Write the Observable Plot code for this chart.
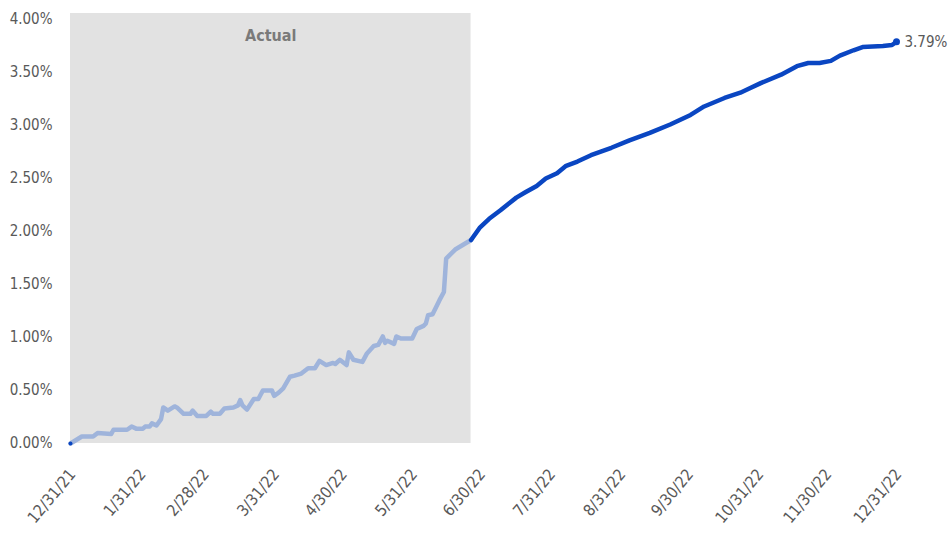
<!DOCTYPE html>
<html><head><meta charset="utf-8">
<script src="https://cdn.jsdelivr.net/npm/d3@7"></script>
<script src="https://cdn.jsdelivr.net/npm/@observablehq/plot@0.6"></script>
<style>body{margin:0;background:#fff;}</style>
</head><body><div id="chart"></div>
<script>
const actualDates = ["2021-12-31","2022-01-05","2022-01-10","2022-01-12","2022-01-18","2022-01-19","2022-01-25","2022-01-27","2022-01-29","2022-02-01","2022-02-02","2022-02-04","2022-02-05","2022-02-07","2022-02-09","2022-02-10","2022-02-12","2022-02-15","2022-02-16","2022-02-19","2022-02-22","2022-02-23","2022-02-25","2022-03-01","2022-03-03","2022-03-04","2022-03-07","2022-03-09","2022-03-13","2022-03-15","2022-03-16","2022-03-17","2022-03-19","2022-03-22","2022-03-24","2022-03-26","2022-03-30","2022-03-31","2022-04-02","2022-04-04","2022-04-07","2022-04-09","2022-04-12","2022-04-15","2022-04-18","2022-04-20","2022-04-23","2022-04-26","2022-04-27","2022-04-29","2022-05-02","2022-05-03","2022-05-05","2022-05-09","2022-05-11","2022-05-14","2022-05-16","2022-05-18","2022-05-19","2022-05-20","2022-05-23","2022-05-24","2022-05-26","2022-05-31","2022-06-02","2022-06-05","2022-06-06","2022-06-07","2022-06-09","2022-06-12","2022-06-14","2022-06-15","2022-06-19","2022-06-26"];
const actualValues = [0.00,0.066,0.066,0.10,0.09,0.13,0.13,0.16,0.14,0.14,0.16,0.16,0.19,0.17,0.23,0.34,0.31,0.35,0.34,0.28,0.28,0.31,0.26,0.26,0.30,0.28,0.28,0.33,0.34,0.36,0.41,0.36,0.32,0.42,0.42,0.50,0.50,0.45,0.48,0.52,0.63,0.64,0.66,0.71,0.71,0.78,0.74,0.76,0.75,0.79,0.74,0.86,0.79,0.77,0.85,0.92,0.93,1.01,0.95,0.97,0.94,1.01,0.99,0.99,1.08,1.11,1.13,1.21,1.22,1.35,1.43,1.745,1.83,1.92];
const forecastDates = ["2022-06-26","2022-06-30","2022-07-04","2022-07-09","2022-07-13","2022-07-16","2022-07-20","2022-07-25","2022-07-29","2022-08-03","2022-08-07","2022-08-12","2022-08-18","2022-08-27","2022-09-04","2022-09-13","2022-09-22","2022-10-01","2022-10-07","2022-10-16","2022-10-23","2022-10-26","2022-11-01","2022-11-10","2022-11-17","2022-11-22","2022-11-27","2022-12-02","2022-12-06","2022-12-12","2022-12-16","2022-12-25","2022-12-29","2022-12-31"];
const forecastValues = [1.92,2.04,2.12,2.20,2.27,2.32,2.37,2.43,2.50,2.55,2.62,2.66,2.72,2.79,2.86,2.93,3.01,3.10,3.18,3.26,3.31,3.34,3.40,3.48,3.56,3.59,3.59,3.61,3.66,3.71,3.74,3.75,3.76,3.79];
const xTickDates = ["2021-12-31","2022-01-31","2022-02-28","2022-03-31","2022-04-30","2022-05-31","2022-06-30","2022-07-31","2022-08-31","2022-09-30","2022-10-31","2022-11-30","2022-12-31"];
const yTickValues = [0,0.5,1,1.5,2,2.5,3,3.5,4];
const shadeLabel = "Actual";

const parse = d3.utcParse("%Y-%m-%d");
const actual = actualDates.map((d,i)=>({date: parse(d), value: actualValues[i]}));
const forecast = forecastDates.map((d,i)=>({date: parse(d), value: forecastValues[i]}));
const xTicks = xTickDates.map(parse);
const yTop = 4.057;
const shade = [{x1: actual[0].date, x2: actual[actual.length-1].date, y1: 0, y2: yTop}];
const mid = new Date((shade[0].x1.getTime() + shade[0].x2.getTime())/2);
const last = forecast[forecast.length-1];
const pct = v => v.toFixed(2) + "%";
const font = "'DejaVu Sans Condensed', 'Liberation Sans Narrow', sans-serif";

const chart = Plot.plot({
  width: 948, height: 533,
  marginLeft: 70, marginRight: 52, marginTop: 13, marginBottom: 90,
  style: {fontFamily: font, fontSize: "15px", color: "#595959", background: "#fff"},
  x: {type: "utc", domain: [xTicks[0], xTicks[xTicks.length-1]]},
  y: {domain: [0, yTop]},
  marks: [
    Plot.rect(shade, {x1: "x1", x2: "x2", y1: "y1", y2: "y2", fill: "#e2e2e2"}),
    Plot.text([{x: mid, y: 3.85, t: shadeLabel}], {x: "x", y: "y", text: "t", fontWeight: "bold", fill: "#7a7a7a", fontSize: 16}),
    Plot.axisY({ticks: yTickValues, tickFormat: pct, tickSize: 0, tickPadding: 18}),
    Plot.axisX({ticks: xTicks, tickFormat: d3.utcFormat("%-m/%-d/%y"), tickSize: 0, tickPadding: 28, dx: 2, tickRotate: -50, fontSize: 16}),
    Plot.line(actual, {x: "date", y: "value", stroke: "#9fb4db", strokeWidth: 4.5, strokeLinejoin: "round"}),
    Plot.line(forecast, {x: "date", y: "value", stroke: "#0a46c2", strokeWidth: 4.5, strokeLinejoin: "round"}),
    Plot.dot([actual[0]], {x: "date", y: "value", r: 2, fill: "#0a46c2"}),
    Plot.dot([last], {x: "date", y: "value", r: 3.5, fill: "#0a46c2"}),
    Plot.text([last], {x: "date", y: "value", text: d => pct(d.value), dx: 8, textAnchor: "start", fill: "#595959", fontSize: 15})
  ]
});
document.getElementById("chart").appendChild(chart);
</script></body></html>
